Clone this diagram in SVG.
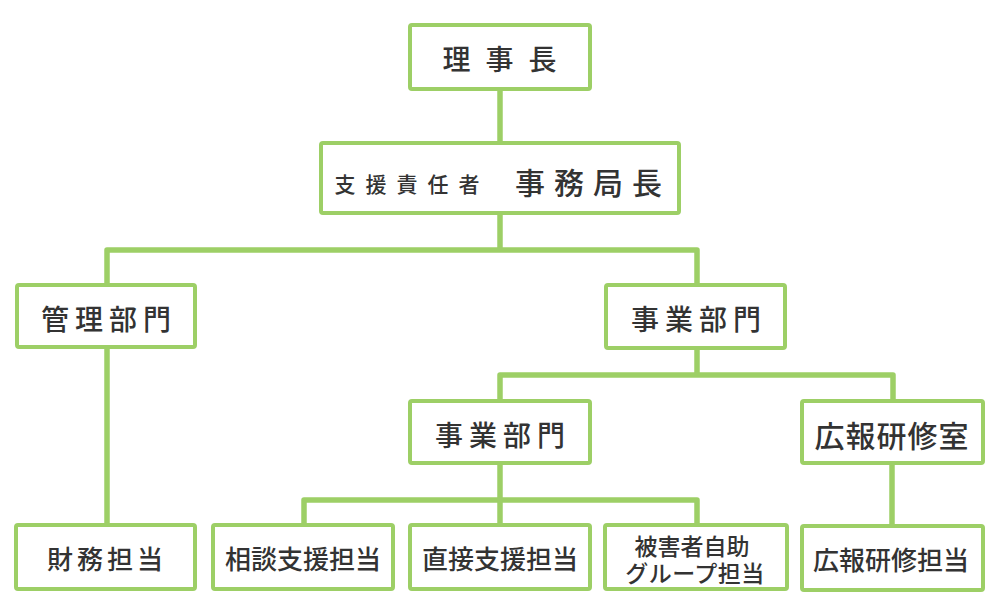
<svg xmlns="http://www.w3.org/2000/svg" width="1000" height="610" viewBox="0 0 1000 610">
<style>
.box{fill:#ffffff;stroke:#9dcf66;stroke-width:4;}
.con{fill:none;stroke:#9dcf66;stroke-width:5.5;stroke-linejoin:round;}
text{font-family:"Noto Sans CJK JP","Noto Sans CJK SC",sans-serif;font-weight:500;fill:#333333;text-anchor:middle;dominant-baseline:central;}
</style>
<rect width="1000" height="610" fill="#ffffff"/>
<g id="connectors">
<path class="con" d="M500,89 V143"/>
<path class="con" d="M500,213 V250"/>
<path class="con" d="M107,285 V250 H697 V285"/>
<path class="con" d="M107,347 V525"/>
<path class="con" d="M697,348 V375"/>
<path class="con" d="M500,401 V375 H893 V401"/>
<path class="con" d="M500,463 V500"/>
<path class="con" d="M304,525 V500 H697 V525"/>
<path class="con" d="M500,500 V525"/>
<path class="con" d="M892,463 V526"/>
</g>
<g id="n1"><rect class="box" x="410" y="25" width="180" height="64" rx="2"/><text x="500" y="58" font-size="28" letter-spacing="15" dx="7">理事長</text></g>
<g id="n2"><rect class="box" x="321" y="143" width="358" height="70" rx="2"/><text x="407" y="183" font-size="21" letter-spacing="10" dx="5">支援責任者</text><text x="589" y="181" font-size="30" letter-spacing="9" dx="4">事務局長</text></g>
<g id="n3"><rect class="box" x="17" y="285" width="178" height="62" rx="2"/><text x="106" y="318" font-size="28" letter-spacing="6" dx="3">管理部門</text></g>
<g id="n4"><rect class="box" x="606" y="285" width="179" height="63" rx="2"/><text x="696" y="318" font-size="28" letter-spacing="6" dx="3">事業部門</text></g>
<g id="n5"><rect class="box" x="410" y="401" width="180" height="62" rx="2"/><text x="500" y="434" font-size="28" letter-spacing="6" dx="3">事業部門</text></g>
<g id="n6"><rect class="box" x="802" y="401" width="181" height="62" rx="2"/><text x="892" y="434" font-size="30" letter-spacing="1">広報研修室</text></g>
<g id="n7"><rect class="box" x="16" y="525" width="179" height="64" rx="2"/><text x="105" y="557" font-size="26" letter-spacing="4" dx="2">財務担当</text></g>
<g id="n8"><rect class="box" x="213" y="525" width="180" height="64" rx="2"/><text x="303" y="557" font-size="26">相談支援担当</text></g>
<g id="n9"><rect class="box" x="410" y="525" width="180" height="64" rx="2"/><text x="500" y="557" font-size="26">直接支援担当</text></g>
<g id="n10"><rect class="box" x="605" y="525" width="182" height="64" rx="2"/><text x="692" y="545" font-size="23">被害者自助</text><text x="695" y="572" font-size="23" letter-spacing="0.5">グループ担当</text></g>
<g id="n11"><rect class="box" x="802" y="526" width="181" height="64" rx="2"/><text x="891" y="558" font-size="26">広報研修担当</text></g>
</svg>
